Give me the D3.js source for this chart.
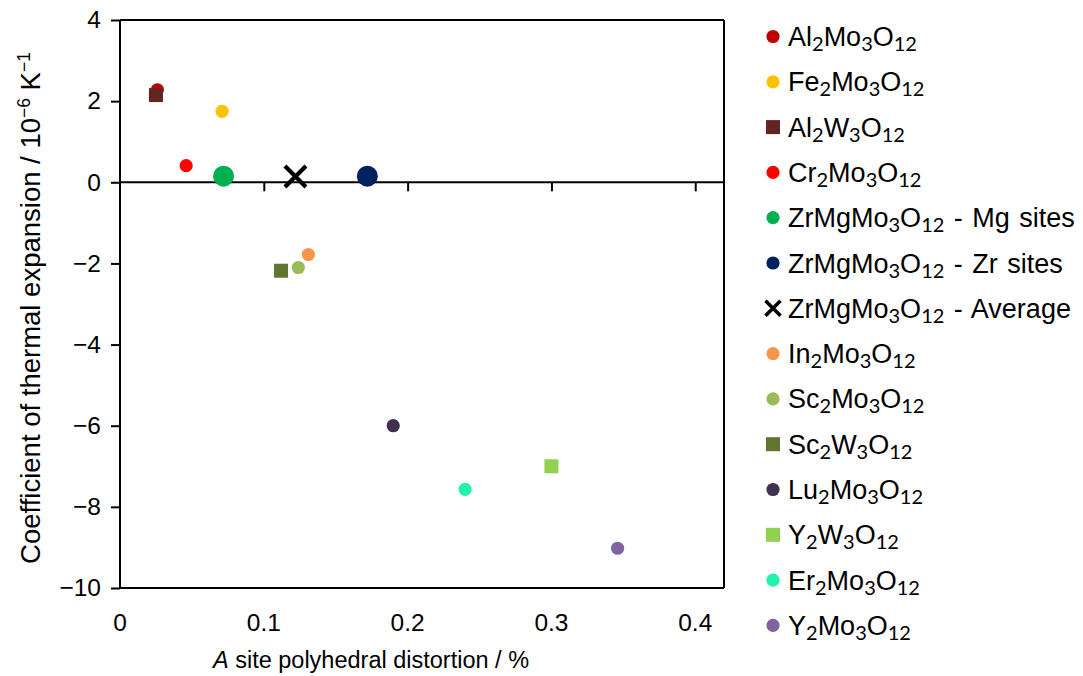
<!DOCTYPE html>
<html>
<head>
<meta charset="utf-8">
<script src="https://cdn.jsdelivr.net/npm/d3@7/dist/d3.min.js"></script>
<style>
  html, body { margin: 0; padding: 0; background: #ffffff; }
  svg { display: block; }
  text { font-family: "Liberation Sans", Arial, sans-serif; fill: #000; }
</style>
</head>
<body>
<svg id="chart" width="1083" height="676"></svg>
<script>
// Compounds, their A-site polyhedral distortion (%) and thermal expansion (10^-6 K^-1)
const compounds = [
  "Al2Mo3O12", "Fe2Mo3O12", "Al2W3O12", "Cr2Mo3O12",
  "ZrMgMo3O12 - Mg sites", "ZrMgMo3O12 - Zr sites", "ZrMgMo3O12 - Average",
  "In2Mo3O12", "Sc2Mo3O12", "Sc2W3O12", "Lu2Mo3O12",
  "Y2W3O12", "Er2Mo3O12", "Y2Mo3O12"
];
const distortion = [0.026, 0.071, 0.025, 0.046, 0.072, 0.172, 0.122, 0.131, 0.124, 0.112, 0.190, 0.300, 0.240, 0.346];
const expansion  = [2.28, 1.75, 2.15, 0.41, 0.15, 0.15, 0.14, -1.78, -2.10, -2.18, -6.00, -7.00, -7.57, -9.02];
const markerShapes = ["circle", "circle", "square", "circle", "bigCircle", "bigCircle", "cross",
                      "circle", "circle", "square", "circle", "square", "circle", "circle"];
const markerColors = ["#C00000", "#FFC000", "#632523", "#FF0000", "#00B050", "#002060", "#000000",
                      "#F79646", "#9BBB59", "#5F7530", "#403151", "#92D050", "#22F2AA", "#8064A2"];

const xTicks = [0, 0.1, 0.2, 0.3, 0.4];
const yTicks = [4, 2, 0, -2, -4, -6, -8, -10];

const svg = d3.select("#chart");
const plotLeft = 120, plotRight = 724, plotTop = 20, plotBottom = 588;

const x = d3.scaleLinear().domain([0, 0.42]).range([plotLeft, plotRight]);
const y = d3.scaleLinear().domain([-10, 4]).range([plotBottom, plotTop]);

const fmtY = v => (v < 0 ? "\u2212" + Math.abs(v) : String(v));
const fmtX = v => (v === 0 ? "0" : String(v));

// Frame: top, right and bottom edges
const frame = svg.append("g").attr("stroke", "#000").attr("stroke-width", 2).attr("fill", "none");
frame.append("line").attr("x1", plotLeft).attr("x2", plotRight).attr("y1", plotTop).attr("y2", plotTop);
frame.append("line").attr("x1", plotRight).attr("x2", plotRight).attr("y1", plotTop).attr("y2", plotBottom);
frame.append("line").attr("x1", plotLeft).attr("x2", plotRight).attr("y1", plotBottom).attr("y2", plotBottom);

// Left axis with outward ticks
const yAxis = svg.append("g")
  .attr("transform", `translate(${plotLeft},0)`)
  .call(d3.axisLeft(y).tickValues(yTicks).tickSize(9).tickPadding(10).tickFormat(fmtY));
yAxis.selectAll("path, line").attr("stroke", "#000").attr("stroke-width", 2);
yAxis.select(".domain").attr("d", `M0,${plotTop}V${plotBottom}`);
yAxis.selectAll("text").style("font-family", "Liberation Sans, Arial, sans-serif").style("font-size", "24.5px");

// Horizontal axis drawn through zero, ticks hanging below
const xAxis = svg.append("g")
  .attr("transform", `translate(0,${y(0)})`)
  .call(d3.axisBottom(x).tickValues(xTicks.filter(d => d > 0)).tickSize(9).tickFormat(""));
xAxis.selectAll("path, line").attr("stroke", "#000").attr("stroke-width", 2);
xAxis.select(".domain").attr("d", `M${plotLeft},0H${plotRight}`);

// Tick labels for x sit below the frame
svg.append("g").selectAll("text").data(xTicks).join("text")
  .attr("x", d => x(d)).attr("y", 631)
  .attr("text-anchor", "middle").style("font-size", "24.5px")
  .text(fmtX);

// Axis titles
const xt = svg.append("text").attr("x", 371).attr("y", 668).attr("text-anchor", "middle").style("font-size", "23.5px");
xt.append("tspan").style("font-style", "italic").text("A");
xt.append("tspan").text(" site polyhedral distortion / %");

const yt = svg.append("text")
  .attr("transform", "translate(40,308) rotate(-90)")
  .attr("text-anchor", "middle").style("font-size", "27.5px");
yt.append("tspan").text("Coefficient of thermal expansion / 10");
yt.append("tspan").attr("dy", -10).style("font-size", "17.5px").text("\u22126");
yt.append("tspan").attr("dy", 10).text(" K");
yt.append("tspan").attr("dy", -10).style("font-size", "17.5px").text("\u22121");

// Marker drawing shared by plot and legend
function drawMarker(g, shape, color, cx, cy, scale) {
  if (shape === "circle" || shape === "bigCircle") {
    const r = (shape === "bigCircle" ? 10.5 : 6.6) * scale;
    g.append("circle").attr("cx", cx).attr("cy", cy).attr("r", r).attr("fill", color);
  } else if (shape === "square") {
    const s = 14;
    g.append("rect").attr("x", cx - s / 2).attr("y", cy - s / 2).attr("width", s).attr("height", s).attr("fill", color);
  } else if (shape === "cross") {
    const h = scale === 1 ? 10.5 : 7.5;
    g.append("path")
      .attr("d", `M${cx - h},${cy - h}L${cx + h},${cy + h}M${cx - h},${cy + h}L${cx + h},${cy - h}`)
      .attr("stroke", color).attr("stroke-width", scale === 1 ? 4.2 : 3.6).attr("fill", "none");
  }
}

const points = svg.append("g");
compounds.forEach((name, i) => {
  drawMarker(points, markerShapes[i], markerColors[i], x(distortion[i]), y(expansion[i]), 1);
});

// Legend with subscripted formula digits
const legend = svg.append("g");
const rowStart = 36.5, rowGap = 45.3;
compounds.forEach((name, i) => {
  const cy = rowStart + i * rowGap;
  const shape = markerShapes[i] === "bigCircle" ? "circle" : markerShapes[i];
  drawMarker(legend, shape, markerColors[i], 773, cy, shape === "cross" ? 0.7 : 1);
  const t = legend.append("text").attr("x", 788).attr("y", cy + 9.5)
    .style("font-size", "27px").style("word-spacing", "2px");
  const parts = name.split(/(\d+)/).filter(p => p.length);
  let sub = false;
  parts.forEach(p => {
    const isNum = /^\d+$/.test(p);
    const ts = t.append("tspan").text(p);
    if (isNum) {
      ts.style("font-family", "Lato, sans-serif").style("font-size", "20px").attr("dy", sub ? 0 : 5);
      sub = true;
    } else {
      if (sub) ts.attr("dy", -5);
      sub = false;
    }
  });
});
</script>
</body>
</html>
